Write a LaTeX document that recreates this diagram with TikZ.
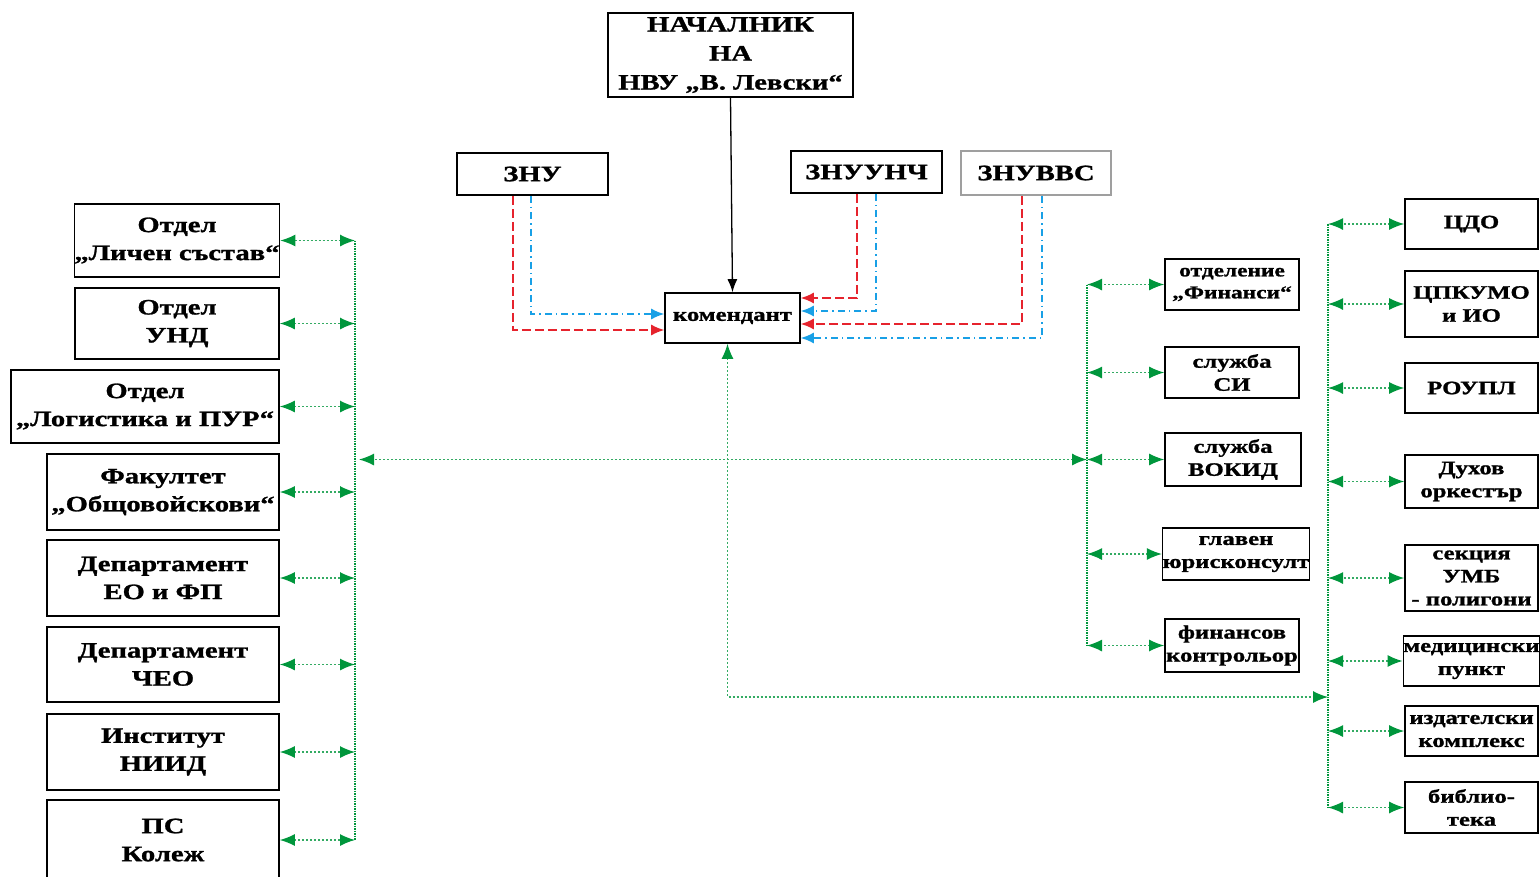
\documentclass[tikz,border=0pt]{standalone}
\usepackage{fontspec}
\setmainfont{Liberation Serif}[FakeStretch=1.3,BoldFeatures={FakeBold=1.2}]
\usetikzlibrary{arrows.meta,calc}
\definecolor{busgreen}{RGB}{0,150,60}
\definecolor{linkred}{RGB}{230,35,45}
\definecolor{linkblue}{RGB}{25,160,230}

\begin{document}
\begin{tikzpicture}[x=1pt,y=-1pt,>=Latex,
  unit/.style={draw,line width=1.6pt,inner sep=0pt,align=center,font=\bfseries\fontsize{22}{28}\selectfont},
  small/.style={unit,font=\bfseries\fontsize{19}{23}\selectfont},
  bus/.style={busgreen,densely dotted,line width=1.5pt},
  link/.style={busgreen!80,dash pattern=on 2pt off 2pt,line width=1.3pt,
    {Latex[length=15pt,width=12pt,busgreen]}-{Latex[length=15pt,width=12pt,busgreen]}},
  redlink/.style={linkred,dash pattern=on 9pt off 4pt,line width=1.5pt,-{Latex[length=13pt,width=11pt]}},
  bluelink/.style={linkblue,dash pattern=on 7pt off 4pt on 1.5pt off 4pt,line width=1.5pt,-{Latex[length=13pt,width=11pt]}}]
  \useasboundingbox (0,0) rectangle (1540,876);
  % top level
  \node[unit,minimum width=245,minimum height=84,font=\bfseries\fontsize{22}{29}\selectfont] (nach) at (730.5,55) {НАЧАЛНИК\\НА\\НВУ „В. Левски“};
  \node[unit,minimum width=151,minimum height=42] (znu) at (532.5,174) {ЗНУ};
  \node[unit,minimum width=151,minimum height=42] (znuunch) at (866.5,172) {ЗНУУНЧ};
  \node[unit,draw=gray!75,minimum width=150,minimum height=44] (znuvvs) at (1036,173) {ЗНУВВС};
  \node[small,minimum width=135,minimum height=50] (kom) at (732.5,318) {комендант};
  % left column
  \node[unit,minimum width=204,minimum height=73] (lichen) at (177,240.5) {Отдел\\„Личен състав“};
  \node[unit,minimum width=204,minimum height=71] (und) at (177,323.5) {Отдел\\УНД};
  \node[unit,minimum width=268,minimum height=73] (logist) at (145,406.5) {Отдел\\„Логистика и ПУР“};
  \node[unit,minimum width=232,minimum height=76] (fakultet) at (163,492) {Факултет\\„Общовойскови“};
  \node[unit,minimum width=232,minimum height=76] (depeo) at (163,578) {Департамент\\ЕО и ФП};
  \node[unit,minimum width=232,minimum height=75] (depcheo) at (163,664.5) {Департамент\\ЧЕО};
  \node[unit,minimum width=232,minimum height=76] (niid) at (163,752) {Институт\\НИИД};
  \node[unit,minimum width=232,minimum height=80] (kolezh) at (163,840) {ПС\\Колеж};
  % middle column
  \node[small,minimum width=134,minimum height=51,font=\bfseries\fontsize{18}{22}\selectfont] (finansi) at (1232,284.5) {отделение\\„Финанси“};
  \node[small,minimum width=134,minimum height=51] (si) at (1232,372.5) {служба\\СИ};
  \node[small,minimum width=136,minimum height=53] (vokid) at (1233,459.5) {служба\\ВОКИД};
  \node[small,minimum width=138,minimum height=52] (yurist) at (1236,554) {главен\\юрисконсулт};
  \node[small,minimum width=134,minimum height=53] (kontrol) at (1232,645.5) {финансов\\контрольор};
  % right column
  \node[small,minimum width=133,minimum height=50] (cdo) at (1471.5,224) {ЦДО};
  \node[small,minimum width=133,minimum height=66] (cpkumo) at (1471.5,304) {ЦПКУМО\\и ИО};
  \node[small,minimum width=133,minimum height=50] (roupl) at (1471.5,388) {РОУПЛ};
  \node[small,minimum width=133,minimum height=53] (duhov) at (1471.5,481.5) {Духов\\оркестър};
  \node[small,minimum width=133,minimum height=66] (umb) at (1471.5,578) {секция\\УМБ\\- полигони};
  \node[small,minimum width=133,minimum height=50] (med) at (1471.5,661) {медицински\\пункт};
  \node[small,minimum width=133,minimum height=50] (izd) at (1471.5,731) {издателски\\комплекс};
  \node[small,minimum width=133,minimum height=51] (bib) at (1471.5,807.5) {библио-\\тека};
  % bus lines
  \coordinate (busL) at (355,0);
  \coordinate (busM) at (1087,0);
  \coordinate (busR) at (1328,0);
  \draw[bus] (lichen.east -| busL) -- (kolezh.east -| busL);
  \draw[bus] (finansi.west -| busM) -- (kontrol.west -| busM);
  \draw[bus] (cdo.west -| busR) -- (bib.west -| busR);
  \foreach \n in {lichen,und,logist,fakultet,depeo,depcheo,niid,kolezh}
    \draw[link] (\n.east) -- (\n.east -| busL);
  \foreach \n in {finansi,si,vokid,yurist,kontrol}
    \draw[link] (\n.west) -- (\n.west -| busM);
  \foreach \n in {cdo,cpkumo,roupl,duhov,umb,med,izd,bib}
    \draw[link] (\n.west) -- (\n.west -| busR);
  \draw[link,shorten >=4pt] (vokid.west -| busM) -- (vokid.west -| busL);
  \draw[link] ([xshift=-5pt]kom.south) -- ([xshift=-5pt]kom.south |- 0,697) -- (busR |- 0,697);
  % deputies to komendant
  \draw[-{Latex[length=13pt,width=10pt]},line width=1.3pt] (nach.south) -- (kom.north);
  \draw[redlink] (513,0 |- znu.south) |- (kom.west |- 0,330);
  \draw[bluelink] (531,0 |- znu.south) |- (kom.west |- 0,314);
  \draw[redlink] (857,0 |- znuunch.south) |- (kom.east |- 0,298);
  \draw[bluelink] (876,0 |- znuunch.south) |- (kom.east |- 0,311);
  \draw[redlink] (1022,0 |- znuvvs.south) |- (kom.east |- 0,324);
  \draw[bluelink] (1042,0 |- znuvvs.south) |- (kom.east |- 0,338);
\end{tikzpicture}
\end{document}
